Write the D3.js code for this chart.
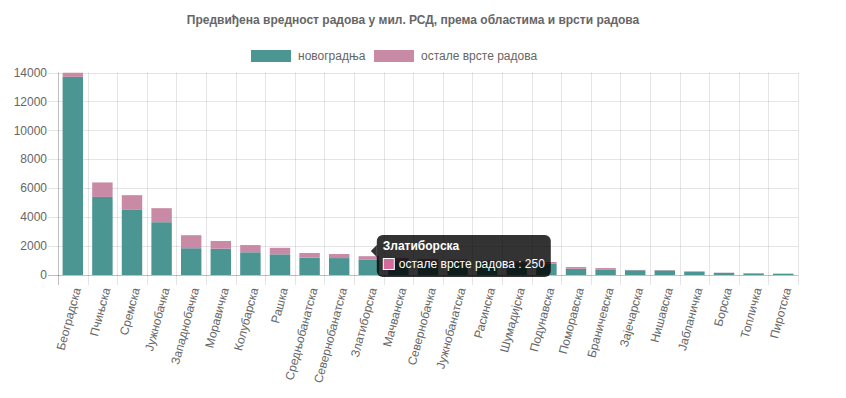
<!DOCTYPE html>
<html>
<head>
<meta charset="utf-8">
<script src="https://cdn.jsdelivr.net/npm/d3@7"></script>
<style>
  body { margin: 0; background: #fff; }
  svg { display: block; font-family: "Liberation Sans", Arial, Helvetica, sans-serif; }
</style>
</head>
<body>
<svg id="chart" width="846" height="398"></svg>
<script>
// areas (области), sorted by total value
var categories = ["Београдска", "Пчињска", "Сремска", "Јужнобачка", "Западнобачка", "Моравичка",
    "Колубарска", "Рашка", "Средњобанатска", "Севернобанатска", "Златиборска", "Мачванска",
    "Севернобачка", "Јужнобанатска", "Расинска", "Шумадијска", "Подунавска", "Поморавска",
    "Браничевска", "Зајечарска", "Нишавска", "Јабланичка", "Борска", "Топличка", "Пиротска"];
// новоградња (new construction), mil. RSD
var novogradnja = [13700, 5400, 4500, 3650, 1850, 1820, 1570, 1430, 1200, 1170, 1050, 960,
    920, 880, 850, 820, 800, 430, 390, 330, 320, 240, 150, 110, 90];
// остале врсте радова (other works), mil. RSD
var ostale = [300, 1000, 1020, 970, 900, 530, 500, 450, 320, 280, 250, 220,
    200, 180, 150, 130, 100, 120, 90, 20, 20, 10, 10, 5, 5];
var yTicks = [0, 2000, 4000, 6000, 8000, 10000, 12000, 14000];
var seriesNames = ["новоградња", "остале врсте радова"];
var seriesColors = ["#4b9592", "#c98aa5"];

var title = "Предвиђена вредност радова у мил. РСД, према областима и врсти радова";
var tipIndex = 10; // tooltip shown over Златиборска

var svg = d3.select("#chart");
var margin = { left: 58, right: 48, top: 72.5, bottom: 123 };
var width = 846, height = 398;

var x = d3.scaleBand()
    .domain(categories)
    .range([margin.left, width - margin.right])
    .padding(0);
var y = d3.scaleLinear()
    .domain([0, 14000])
    .range([height - margin.bottom, margin.top]);

var barW = x.bandwidth() * 0.69;

// title
svg.append("text")
    .attr("x", 413)
    .attr("y", 24)
    .attr("text-anchor", "middle")
    .style("font-size", "12px")
    .style("font-weight", "bold")
    .style("fill", "#666")
    .text(title);

// legend
var legendX = [251, 374];
seriesNames.forEach(function (name, i) {
    svg.append("rect")
        .attr("x", legendX[i])
        .attr("y", 50)
        .attr("width", 40)
        .attr("height", 12)
        .style("fill", seriesColors[i]);
    svg.append("text")
        .attr("x", legendX[i] + 47)
        .attr("y", 60)
        .style("font-size", "12px")
        .style("fill", "#666")
        .text(name);
});

// horizontal grid + y ticks
var grid = svg.append("g");
yTicks.forEach(function (t) {
    grid.append("line")
        .attr("x1", margin.left - 10)
        .attr("x2", width - margin.right)
        .attr("y1", Math.round(y(t)) + 0.5)
        .attr("y2", Math.round(y(t)) + 0.5)
        .attr("stroke", t === 0 ? "rgba(0,0,0,0.25)" : "rgba(0,0,0,0.1)");
    svg.append("text")
        .attr("x", margin.left - 11)
        .attr("y", y(t))
        .attr("dy", "0.35em")
        .attr("text-anchor", "end")
        .style("font-size", "12px")
        .style("fill", "#666")
        .text(t);
});

// vertical grid lines at category boundaries
var bounds = categories.map(function (c) { return x(c); }).concat([width - margin.right]);
bounds.forEach(function (bx, i) {
    grid.append("line")
        .attr("x1", Math.round(bx) + 0.5)
        .attr("x2", Math.round(bx) + 0.5)
        .attr("y1", margin.top)
        .attr("y2", height - margin.bottom + 10)
        .attr("stroke", i === 0 ? "rgba(0,0,0,0.25)" : "rgba(0,0,0,0.1)");
});

// stacked bars
var stackData = categories.map(function (c, i) {
    return { cat: c, a: novogradnja[i], b: ostale[i] };
});
var stacked = d3.stack().keys(["a", "b"])(stackData);

svg.append("clipPath").attr("id", "plotClip")
    .append("rect")
    .attr("x", margin.left).attr("y", margin.top)
    .attr("width", width - margin.left - margin.right)
    .attr("height", height - margin.top - margin.bottom);

var bars = svg.append("g").attr("clip-path", "url(#plotClip)");
stacked.forEach(function (layer, k) {
    bars.selectAll(".bar" + k)
        .data(layer)
        .enter().append("rect")
        .attr("x", function (d) { return x(d.data.cat) + (x.bandwidth() - barW) / 2; })
        .attr("y", function (d) { return y(d[1]); })
        .attr("width", barW)
        .attr("height", function (d) { return y(d[0]) - y(d[1]); })
        .style("fill", seriesColors[k]);
});

// x labels, rotated
categories.forEach(function (c) {
    var cx = x(c) + x.bandwidth() / 2 + 4;
    svg.append("text")
        .attr("transform", "translate(" + cx + "," + (height - margin.bottom + 13) + ") rotate(-75)")
        .attr("text-anchor", "end")
        .attr("dy", "0.35em")
        .style("font-size", "12px")
        .style("fill", "#666")
        .text(c);
});

// tooltip over Златиборска
var tipX = x(categories[tipIndex]) + x.bandwidth() / 2 + 8;
var tipY = 235;
var tip = svg.append("g");
var boxW = 174, boxH = 42;
tip.append("path")
    .attr("d", "M" + (tipX - 6) + "," + (tipY + 16) + " L" + tipX + "," + (tipY + 10) + " L" + tipX + "," + (tipY + 22) + " Z")
    .style("fill", "rgba(0,0,0,0.8)");
tip.append("rect")
    .attr("x", tipX)
    .attr("y", tipY)
    .attr("width", boxW)
    .attr("height", boxH)
    .attr("rx", 6)
    .style("fill", "rgba(0,0,0,0.8)");
tip.append("text")
    .attr("x", tipX + 6)
    .attr("y", tipY + 15)
    .style("font-size", "12px")
    .style("font-weight", "bold")
    .style("fill", "#fff")
    .text(categories[tipIndex]);
tip.append("rect")
    .attr("x", tipX + 6.5)
    .attr("y", tipY + 23.5)
    .attr("width", 11)
    .attr("height", 11)
    .style("fill", "#d36b9e")
    .style("stroke", "#fff")
    .style("stroke-width", 1);
tip.append("text")
    .attr("x", tipX + 22)
    .attr("y", tipY + 33)
    .style("font-size", "12px")
    .style("fill", "#fff")
    .text(seriesNames[1] + " : " + ostale[tipIndex]);
</script>
</body>
</html>
